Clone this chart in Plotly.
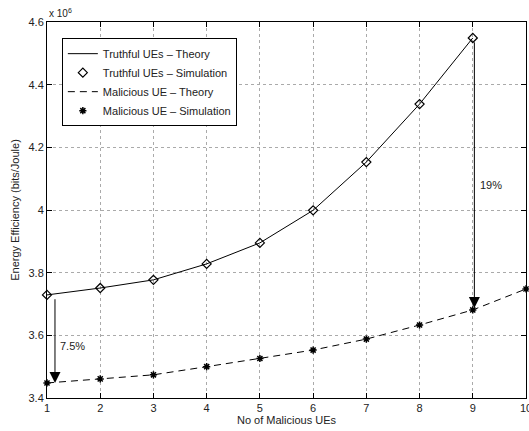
import plotly.graph_objects as go

num_malicious = [1, 2, 3, 4, 5, 6, 7, 8, 9, 10]
truthful_theory = [3.729, 3.751, 3.777, 3.828, 3.895, 3.999, 4.153, 4.338, 4.549]
truthful_sim = [3.729, 3.751, 3.777, 3.828, 3.895, 3.999, 4.153, 4.338, 4.549]
malicious_theory = [3.448, 3.461, 3.474, 3.500, 3.526, 3.553, 3.588, 3.633, 3.681, 3.748]
malicious_sim = [3.448, 3.461, 3.474, 3.500, 3.526, 3.553, 3.588, 3.633, 3.681, 3.748]
y_ticks = [3.4, 3.6, 3.8, 4.0, 4.2, 4.4, 4.6]
y_tick_text = ["3.4", "3.6", "3.8", "4", "4.2", "4.4", "4.6"]

FONT = "Liberation Sans, Arial, Helvetica, sans-serif"

fig = go.Figure()
fig.add_trace(go.Scatter(x=num_malicious[:9], y=truthful_theory, mode="lines",
                         line=dict(color="black", width=1),
                         name="Truthful UEs – Theory"))
fig.add_trace(go.Scatter(x=num_malicious[:9], y=truthful_sim, mode="markers",
                         marker=dict(symbol="diamond-open", size=7, color="black",
                                     line=dict(width=1.2, color="black")),
                         name="Truthful UEs – Simulation", cliponaxis=False))
fig.add_trace(go.Scatter(x=num_malicious, y=malicious_theory, mode="lines",
                         line=dict(color="black", width=1, dash="7px,5px"),
                         name="Malicious UE – Theory"))
fig.add_trace(go.Scatter(x=num_malicious, y=malicious_sim, mode="markers",
                         marker=dict(symbol="asterisk-open", size=6, color="black",
                                     line=dict(width=1.5, color="black")),
                         name="Malicious UE – Simulation", cliponaxis=False))

# arrows
fig.add_annotation(x=1.15, y=3.448, ax=1.15, ay=3.72, xref="x", yref="y",
                   axref="x", ayref="y", showarrow=True, arrowhead=2,
                   arrowsize=2.2, arrowwidth=1, arrowcolor="black", text="")
fig.add_annotation(x=9.03, y=3.687, ax=9.03, ay=4.54, xref="x", yref="y",
                   axref="x", ayref="y", showarrow=True, arrowhead=2,
                   arrowsize=2.2, arrowwidth=1, arrowcolor="black", text="")
fig.add_annotation(x=1.2, y=3.565, xref="x", yref="y", text="7.5%",
                   showarrow=False, xanchor="left",
                   font=dict(family=FONT, size=11, color="#222"))
fig.add_annotation(x=9.1, y=4.08, xref="x", yref="y", text="19%",
                   showarrow=False, xanchor="left",
                   font=dict(family=FONT, size=11, color="#222"))
fig.add_annotation(x=0, y=1, xref="paper", yref="paper", text="x 10<sup>6</sup>",
                   showarrow=False, xanchor="left", yanchor="bottom", yshift=1,
                   font=dict(family=FONT, size=10, color="#222"))

axis_common = dict(showline=True, linecolor="black", linewidth=1, mirror="allticks",
                   ticks="inside", ticklen=5, tickcolor="black", automargin=False,
                   showgrid=True, gridcolor="#aaaaaa", griddash="dot", gridwidth=1,
                   zeroline=False, tickfont=dict(family=FONT, size=11, color="#222"))

fig.update_xaxes(range=[1, 10], tickvals=num_malicious, ticklabeloverflow="allow",
                 title=dict(text="No of Malicious UEs", standoff=3,
                            font=dict(family=FONT, size=11, color="#222")),
                 **axis_common)
fig.update_yaxes(range=[3.4, 4.6], tickvals=y_ticks, ticktext=y_tick_text,
                 title=dict(text="Energy Efficiency (bits/Joule)", standoff=6,
                            font=dict(family=FONT, size=11, color="#222")),
                 **axis_common)

fig.update_layout(width=529, height=431,
                  margin=dict(l=47, r=3, t=22, b=33, autoexpand=False),
                  plot_bgcolor="white", paper_bgcolor="white",
                  font=dict(family=FONT, size=11, color="#222"),
                  showlegend=True,
                  legend=dict(x=0.031, y=0.957, xanchor="left", yanchor="top",
                              bgcolor="white", bordercolor="black", borderwidth=1,
                              font=dict(family=FONT, size=11, color="#222"),
                              tracegroupgap=0, itemwidth=30))

fig.write_html("out.html")
